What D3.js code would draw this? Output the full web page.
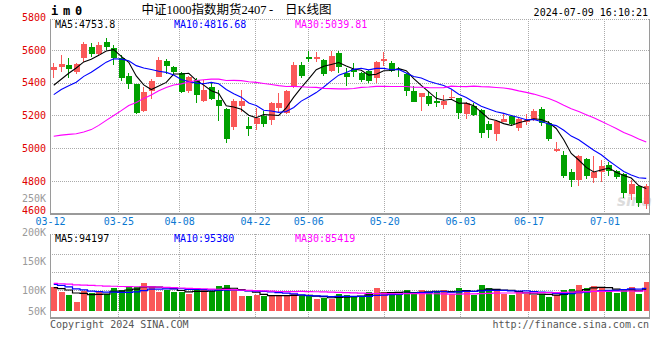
<!DOCTYPE html>
<html><head><meta charset="utf-8">
<script src="https://cdn.jsdelivr.net/npm/d3@7"></script>
<style>body{margin:0;background:#fff}svg{display:block}</style>
</head><body>
<svg id="c" width="660" height="360"></svg>
<script>
const dates = ["03-12","03-13","03-14","03-15","03-18","03-19","03-20","03-21","03-22","03-25","03-26","03-27","03-28","03-29",
"04-01","04-02","04-03","04-08","04-09","04-10","04-11","04-12","04-15","04-16","04-17","04-18","04-19","04-22","04-23","04-24","04-25","04-26","04-29","04-30",
"05-06","05-07","05-08","05-09","05-10","05-13","05-14","05-15","05-16","05-17","05-20","05-21","05-22","05-23","05-24","05-27","05-28","05-29","05-30","05-31",
"06-03","06-04","06-05","06-06","06-07","06-11","06-12","06-13","06-14","06-17","06-18","06-19","06-20","06-21","06-24","06-25","06-26","06-27","06-28",
"07-01","07-02","07-03","07-04","07-05","07-08","07-09"];
const opens  = [5478,5494,5508,5467,5554,5617,5576,5647,5612,5551,5441,5392,5227,5349,5437,5533,5498,5457,5349,5416,
5288,5374,5294,5239,5131,5259,5135,5147,5199,5172,5247,5213,5371,5508,5559,5542,5539,5472,5580,5457,
5482,5457,5472,5427,5533,5522,5484,5451,5349,5314,5319,5288,5264,5308,5305,5207,5259,5233,5147,5086,
5161,5196,5125,5158,5172,5237,5152,4984,4958,4856,4805,4933,4819,4856,4897,4860,4842,4719,4768,4656];
const highs  = [5523,5569,5549,5519,5649,5640,5649,5673,5631,5569,5462,5395,5375,5421,5559,5545,5504,5464,5441,5427,
5416,5396,5355,5248,5300,5355,5192,5248,5227,5279,5337,5355,5527,5527,5594,5588,5548,5592,5594,5490,
5522,5467,5478,5533,5590,5533,5498,5457,5382,5340,5349,5341,5325,5355,5308,5280,5274,5237,5166,5172,
5207,5202,5182,5207,5237,5251,5166,5035,4982,4872,4958,4941,4952,4927,4917,4866,4846,4805,4770,4779];
const lows   = [5429,5467,5427,5453,5527,5559,5563,5600,5511,5413,5361,5209,5223,5300,5433,5453,5452,5335,5337,5276,
5280,5294,5166,5033,5111,5223,5076,5111,5131,5141,5221,5207,5366,5427,5527,5527,5441,5465,5459,5382,
5433,5406,5396,5400,5504,5464,5437,5320,5280,5229,5259,5250,5237,5294,5176,5176,5198,5064,5060,5045,
5158,5137,5105,5141,5166,5137,5043,4974,4815,4764,4770,4811,4788,4794,4829,4811,4697,4683,4638,4626];
const closes = [5493,5512,5482,5512,5637,5576,5629,5617,5553,5429,5395,5213,5343,5410,5539,5504,5468,5345,5432,5325,
5355,5300,5259,5054,5288,5288,5114,5184,5150,5276,5274,5349,5508,5441,5543,5557,5453,5563,5499,5437,
5467,5416,5412,5528,5543,5472,5476,5349,5284,5339,5270,5280,5290,5314,5217,5274,5202,5094,5111,5166,
5176,5146,5176,5172,5227,5152,5056,4994,4829,4805,4952,4829,4856,4891,4862,4825,4727,4779,4662,4768];
const volumes = [103200,80400,67500,37400,87700,77400,84700,74800,98900,89000,103200,103200,120400,103200,81700,92000,81700,81700,74800,89000,
93300,86000,106200,110500,92000,64500,64500,70500,63200,67500,63200,67500,74800,64500,63200,50300,55900,50300,71800,67500,
63200,64500,80400,97600,80400,70500,70500,89000,80400,89000,80400,84700,89000,71800,97600,92000,70500,110500,100600,92000,
74800,67500,81700,74800,67500,71800,58900,67500,89000,93300,110500,97600,106200,97600,89000,77400,89000,101900,74800,124700];
// sessions before 03-12 (estimated so the moving averages start where the picture shows them)
const priorCloses = [5300,5350,5400,5300,5150,4850,4700,4650,4550,4450,4650,4600,4800,4750,4900,5000,5150,5100,5050,5200,5200,5250,5300,5280,5320,5330,5300,5350,5450];
const priorVolumes = [118000,125000,121000,132000,115000,119000,127000,112000,120000,124000,117000,122000,128000,114000,120000,116000,123000,111000,118000,121000,126000,132000,124000,129000,130000,104000,96000,102000,98000];
const priceTicks = [4600,4800,5000,5200,5400,5600,5800];
const dateTicks = ["03-12","03-25","04-08","04-22","05-06","05-20","06-03","06-17","07-01"];
const volTicks = [50000,100000,150000,200000,250000];
const volGrid = [140000,230000,320000];
const priceMALabels = ["MA5:4753.8","MA10:4816.68","MA30:5039.81"];
const volMALabels = ["MA5:94197","MA10:95380","MA30:85419"];
const titleParts = ["中证1000指数期货2407", "-", "日K线图"];
const maPeriods = [5,10,30];
const maColors = ["#000000","#0000ff","#ff00ff"];

const svg = d3.select("#c");
const L = 50, R = 650, pTop = 19, pBot = 213.5, vTop = 234.3, vBot = 317.5;
const RED = "#fa5858", GREEN = "#00a000", GRID = "#aaaaaa", BORDER = "#9a9a9a";
const MONO = "DejaVu Sans Mono, monospace";

const xB = d3.scaleBand().domain(dates).range([L, R]);
const cx = d => xB(d) + xB.bandwidth() / 2;
const xG = d3.scalePoint().domain(dates).range([L, R]);
const yP = d3.scaleLinear().domain([4600, 5800]).range([pBot, 17.3]);
const yV = d3.scaleLinear().domain([0, 100000]).range([311, 287.7]);
const yVL = d3.scaleLinear().domain([100000, 200000]).range([290.5, 232.5]);
const yVG = d3.scaleLinear().domain([0, 420000]).range([vBot, vTop]);

function movAvg(prior, arr, n) {
  const all = prior.concat(arr), P = prior.length;
  return arr.map((_, i) => d3.mean(all.slice(i + P - n + 1, i + P + 1)));
}
const n = dates.length, idx = d3.range(n);
const up = i => closes[i] >= opens[i];

// ---------- grid ----------
const grid = svg.append("g").attr("stroke", GRID).attr("stroke-dasharray", "1,1").attr("shape-rendering", "crispEdges");
priceTicks.filter(v => v > 4600 && v < 5800).forEach(v => {
  const y = Math.round(yP(v)) + 0.5;
  grid.append("line").attr("x1", L).attr("x2", R).attr("y1", y).attr("y2", y);
});
grid.append("line").attr("x1", L).attr("x2", R).attr("y1", pTop + 0.5).attr("y2", pTop + 0.5);
grid.append("line").attr("x1", L).attr("x2", R).attr("y1", vTop + 0.2).attr("y2", vTop + 0.2);
volGrid.forEach(v => {
  const y = Math.round(yVG(v)) + 0.5;
  grid.append("line").attr("x1", L).attr("x2", R).attr("y1", y).attr("y2", y);
});
dateTicks.slice(1).forEach(d => {
  const x = Math.round(xG(d)) + 0.5;
  grid.append("line").attr("x1", x).attr("x2", x).attr("y1", pTop).attr("y2", pBot);
  grid.append("line").attr("x1", x).attr("x2", x).attr("y1", vTop).attr("y2", vBot);
});

// watermark
svg.append("text").attr("x", 617).attr("y", 206).attr("font-family", "DejaVu Sans, sans-serif")
  .attr("font-size", 15).attr("font-style", "italic").attr("font-weight", "bold").attr("fill", "#dcdcdc").text("sina");

// ---------- candles ----------
const cg = svg.append("g").attr("shape-rendering", "crispEdges");
cg.selectAll("line").data(idx).join("line")
  .attr("x1", i => Math.floor(cx(dates[i])) + 0.5).attr("x2", i => Math.floor(cx(dates[i])) + 0.5)
  .attr("y1", i => yP(highs[i])).attr("y2", i => yP(lows[i]))
  .attr("stroke", i => up(i) ? RED : GREEN);
cg.selectAll("rect").data(idx).join("rect")
  .attr("x", i => Math.floor(cx(dates[i])) - 2.5).attr("width", 6)
  .attr("y", i => yP(Math.max(opens[i], closes[i])))
  .attr("height", i => Math.max(1.5, Math.abs(yP(opens[i]) - yP(closes[i]))))
  .attr("fill", i => up(i) ? RED : GREEN);

// price MAs
maPeriods.forEach((p, k) => {
  const ma = movAvg(priorCloses, closes, p);
  svg.append("path").datum(idx)
    .attr("d", d3.line().x(i => cx(dates[i])).y(i => yP(ma[i])))
    .attr("fill", "none").attr("stroke", maColors[k]).attr("stroke-width", 1.1);
});

// ---------- volume ----------
const vg = svg.append("g").attr("shape-rendering", "crispEdges");
vg.selectAll("rect").data(idx).join("rect")
  .attr("x", i => Math.floor(cx(dates[i])) - 2.5).attr("width", 6)
  .attr("y", i => yV(volumes[i])).attr("height", i => yV(0) - yV(volumes[i]))
  .attr("fill", i => up(i) ? RED : GREEN);
maPeriods.forEach((p, k) => {
  const ma = movAvg(priorVolumes, volumes, p);
  svg.append("path").datum(idx)
    .attr("d", d3.line().curve(d3.curveStep).x(i => cx(dates[i])).y(i => yV(ma[i])))
    .attr("fill", "none").attr("stroke", maColors[k]).attr("stroke-width", 1.2);
});

// ---------- borders ----------
const bd = svg.append("g").attr("stroke", BORDER).attr("shape-rendering", "crispEdges").attr("fill", "none");
bd.append("path").attr("d", `M${L + 0.5},${pTop}V${pBot}`).attr("stroke-width", 1);
bd.append("path").attr("d", `M${R - 0.5},${pTop}V${pBot}`).attr("stroke-width", 1);
bd.append("path").attr("d", `M${L},${pBot}H${R}`).attr("stroke-width", 2);
bd.append("path").attr("d", `M${L + 0.5},${vTop}V${vBot + 1}`).attr("stroke-width", 1);
bd.append("path").attr("d", `M${R - 0.5},${vTop}V${vBot + 1}`).attr("stroke-width", 1);
bd.append("path").attr("d", `M${L},${vBot}H${R}`).attr("stroke-width", 2);

// ---------- axes ----------
const ay = svg.append("g").attr("transform", `translate(${L},0)`)
  .call(d3.axisLeft(yP).tickValues(priceTicks).tickSize(0).tickPadding(4).tickFormat(d3.format("d")));
ay.select(".domain").remove();
ay.selectAll("text").attr("fill", "#e00000").attr("font-family", MONO).attr("font-size", 10)
  .attr("y", v => v === 4600 ? -3 : 0);

const ax = svg.append("g").attr("transform", `translate(0,${pBot})`)
  .call(d3.axisBottom(xG).tickValues(dateTicks).tickSize(0).tickPadding(4));
ax.select(".domain").remove();
ax.selectAll("text").attr("fill", "#0a78d2").attr("font-family", MONO).attr("font-size", 10);

svg.append("g").selectAll("text").data(volTicks).join("text")
  .attr("x", 46).attr("y", v => v > 200000 ? 198 : Math.min(311, yVL(v))).attr("dy", "0.35em")
  .attr("text-anchor", "end").attr("font-family", MONO).attr("font-size", 10).attr("fill", "#9a9a9a")
  .text(v => d3.format("d")(v / 1000) + "K");

// ---------- labels ----------
const lx = [55, 174, 295];
priceMALabels.forEach((t, k) => svg.append("text").attr("x", lx[k]).attr("y", 27.5)
  .attr("font-family", MONO).attr("font-size", 10).attr("fill", maColors[k]).text(t));
volMALabels.forEach((t, k) => svg.append("text").attr("x", lx[k]).attr("y", 242)
  .attr("font-family", MONO).attr("font-size", 10).attr("fill", maColors[k]).text(t));

svg.append("text").attr("x", 51).attr("y", 15).attr("font-family", MONO).attr("font-weight", "bold")
  .attr("font-size", 12).attr("letter-spacing", -1.2).attr("fill", "#000").text("i m 0");
const tx = [141.5, 271, 285], ta = ["start", "middle", "start"];
titleParts.forEach((t, k) => svg.append("text").attr("x", tx[k]).attr("y", 13.5).attr("text-anchor", ta[k])
  .attr("font-family", "Liberation Serif, Noto Sans CJK SC, serif").attr("font-size", 12.5).attr("fill", "#000").text(t));
svg.append("text").attr("x", 648).attr("y", 15.5).attr("text-anchor", "end").attr("font-family", MONO)
  .attr("font-size", 10).attr("fill", "#000").text("2024-07-09 16:10:21");
svg.append("text").attr("x", 50).attr("y", 327.5).attr("font-family", MONO)
  .attr("font-size", 10).attr("fill", "#555").text("Copyright 2024 SINA.COM");
svg.append("text").attr("x", 649).attr("y", 327.5).attr("text-anchor", "end").attr("font-family", MONO)
  .attr("font-size", 10).attr("fill", "#555").text("http://finance.sina.com.cn");
</script>
</body></html>
